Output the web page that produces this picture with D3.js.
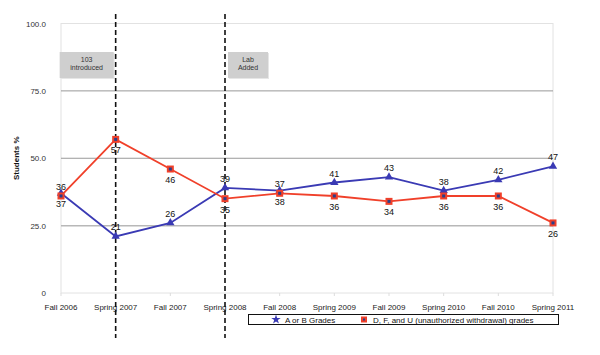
<!DOCTYPE html>
<html><head><meta charset="utf-8">
<script src="https://cdn.jsdelivr.net/npm/d3@7"></script>
<style>body{margin:0;background:#fff}svg{display:block;font-family:"Liberation Sans",Arial,sans-serif}</style>
</head><body><svg id="c" width="600" height="355"></svg>
<script>
const categories = ["Fall 2006","Spring 2007","Fall 2007","Spring 2008","Fall 2008","Spring 2009","Fall 2009","Spring 2010","Fall 2010","Spring 2011"];
const abGrades = [37,21,26,39,38,41,43,38,42,47];
const dfuGrades = [36,57,46,35,37,36,34,36,36,26];
const abLabelPos = ["below","above","above","above","below","above","above","above","above","above"];
const dfuLabelPos = ["above","below","below","below","above","below","below","below","below","below"];
const yTicks = [0,25,50,75,100];
const events = [{at:"Spring 2007", text:["103","introduced"], side:"left"},{at:"Spring 2008", text:["Lab","Added"], side:"right"}];
const seriesNames = ["A or B Grades","D, F, and U (unauthorized withdrawal) grades"];

const svg = d3.select("#c");
const m = {l:61, r:553, t:23.5, b:293};
const x = d3.scalePoint().domain(categories).range([m.l, m.r]).padding(0);
const y = d3.scaleLinear().domain([0,100]).range([m.b, m.t]);

// plot border
svg.append("rect").attr("x",m.l).attr("y",m.t).attr("width",m.r-m.l).attr("height",m.b-m.t)
  .attr("fill","none").attr("stroke","#e2e2e2").attr("stroke-width",1);
// gridlines
svg.append("g").selectAll("line").data(yTicks.filter(d=>d>0&&d<100)).join("line")
  .attr("x1",m.l).attr("x2",m.r).attr("y1",d=>y(d)).attr("y2",d=>y(d))
  .attr("stroke",d=>d===25?"#b8b8b8":"#999").attr("stroke-width",d=>d===25?1.5:1);
// x tick marks
svg.append("g").selectAll("line").data(categories).join("line")
  .attr("x1",d=>x(d)).attr("x2",d=>x(d)).attr("y1",m.b).attr("y2",m.b+3).attr("stroke","#ddd");
// y tick labels
svg.append("g").selectAll("text").data(yTicks).join("text")
  .attr("x",46).attr("y",d=>y(d)+3).attr("text-anchor","end").attr("font-size",8).attr("fill","#333")
  .text(d=>d===0?"0":d.toFixed(1));
// x labels
svg.append("g").selectAll("text").data(categories).join("text")
  .attr("x",d=>x(d)).attr("y",310).attr("text-anchor","middle").attr("font-size",8).attr("fill","#222").text(d=>d);
// y title
svg.append("text").attr("transform",`translate(19,${(m.t+m.b)/2}) rotate(-90)`).attr("text-anchor","middle")
  .attr("font-size",8).attr("font-weight","bold").attr("fill","#111").text("Students %");

// annotation boxes
events.forEach(e=>{
  const cx = x(e.at);
  const w = e.side==="left"?54:40, bx = e.side==="left"? cx-w-2 : cx+3;
  const by = 52, h = 26;
  svg.append("rect").attr("x",bx+1).attr("y",by+1).attr("width",w).attr("height",h).attr("fill","#e6e6e6");
  svg.append("rect").attr("x",bx).attr("y",by).attr("width",w).attr("height",h).attr("fill","#cfcfcf");
  e.text.forEach((t,i)=>svg.append("text").attr("x",bx+w/2).attr("y",by+10+i*8).attr("text-anchor","middle")
    .attr("font-size",7).attr("fill","#333").text(t));
});

// lines
const line = d3.line().x((d,i)=>x(categories[i])).y(d=>y(d));
const blue = "#3a3ab4", red = "#f0402a";
svg.append("path").datum(abGrades).attr("d",line).attr("fill","none").attr("stroke",blue).attr("stroke-width",1.8);
svg.append("path").datum(dfuGrades).attr("d",line).attr("fill","none").attr("stroke",red).attr("stroke-width",1.8);

// dashed vertical lines
svg.append("g").selectAll("line").data(events).join("line")
  .attr("x1",d=>x(d.at)).attr("x2",d=>x(d.at)).attr("y1",14).attr("y2",338)
  .attr("stroke","#111").attr("stroke-width",1.6).attr("stroke-dasharray","5,3");

// markers
const tri = d3.symbol().type(d3.symbolTriangle).size(30);
svg.append("g").selectAll("path").data(abGrades).join("path")
  .attr("d",tri).attr("transform",(d,i)=>`translate(${x(categories[i])},${y(d)})`).attr("fill",blue);
const sq = svg.append("g").selectAll("g").data(dfuGrades).join("g")
  .attr("transform",(d,i)=>`translate(${x(categories[i])},${y(d)})`);
sq.append("rect").attr("x",-3.5).attr("y",-3.5).attr("width",7).attr("height",7).attr("fill",red);
sq.append("rect").attr("x",-1.5).attr("y",-1.5).attr("width",3).attr("height",3).attr("fill","#2b3f8a");

// data labels
function labels(data,pos){
  svg.append("g").selectAll("text").data(data).join("text")
    .attr("x",(d,i)=>x(categories[i])).attr("y",(d,i)=>y(d)+(pos[i]==="above"?-6:14))
    .attr("text-anchor","middle").attr("font-size",9).attr("fill","#111").text(d=>d);
}
labels(abGrades,abLabelPos);
labels(dfuGrades,dfuLabelPos);

// legend
const lg = svg.append("g");
lg.append("rect").attr("x",248.5).attr("y",314.5).attr("width",310).attr("height",10).attr("fill","#fff").attr("stroke","#111");
lg.append("path").attr("d",d3.symbol().type(d3.symbolStar).size(28)).attr("transform","translate(276,319.5)").attr("fill",blue);
lg.append("text").attr("x",285).attr("y",322.5).attr("font-size",8).attr("fill","#111").text(seriesNames[0]);
lg.append("rect").attr("x",361).attr("y",316.5).attr("width",6).attr("height",6).attr("fill",red);
lg.append("rect").attr("x",363).attr("y",318.5).attr("width",2).attr("height",2).attr("fill","#2b3f8a");
lg.append("text").attr("x",373).attr("y",322.5).attr("font-size",8).attr("fill","#111").text(seriesNames[1]);
</script></body></html>
